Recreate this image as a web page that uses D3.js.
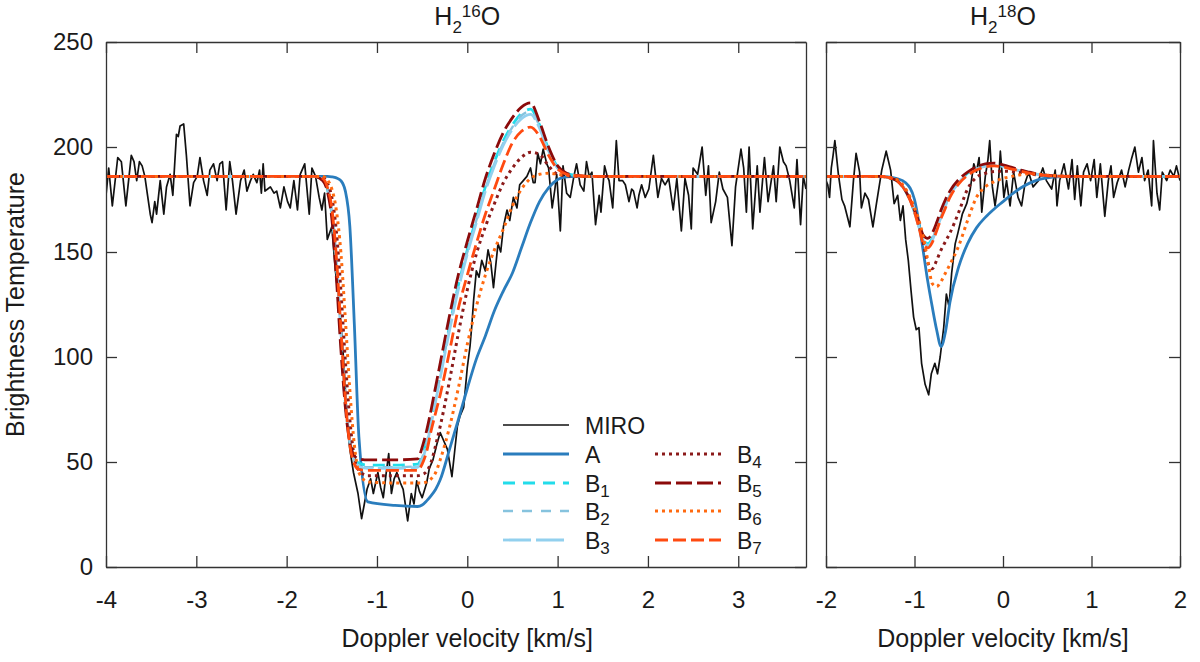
<!DOCTYPE html>
<html lang="en">
<head>
<meta charset="UTF-8">
<title>H2O lines</title>
<script src="https://cdn.jsdelivr.net/npm/d3@7"></script>
<style>
  body { margin: 0; background: #fff; }
  svg text { font-family: "Liberation Sans", Arial, sans-serif; fill: #1a1a1a; }
</style>
</head>
<body>
<script>
// ---------- data: H2-16O panel ----------
var gridL = [-4, -1.7, -1.6, -1.55, -1.5, -1.45, -1.4, -1.35, -1.3, -1.25, -1.2, -1.1, -0.8, -0.55, -0.5, -0.45, -0.4, -0.35, -0.3, -0.2, -0.1, 0, 0.1, 0.2, 0.3, 0.4, 0.5, 0.6, 0.7, 0.8, 0.9, 1.0, 1.1, 1.2, 1.4, 3.75];
var aL  = [186, 186, 186, 186, 185.8, 185.3, 184, 179, 162, 115, 62, 31, 29.3, 28.8, 29.5, 31.5, 34, 37, 41.5, 55.5, 70, 85, 99, 110, 122, 131.5, 140, 152, 164, 174, 180.5, 184.5, 185.8, 186, 186, 186];
var b1L = [186, 186, 184.5, 180, 168, 142, 108, 78, 60, 52, 49.5, 48.5, 48.5, 49, 53, 60, 70, 81, 92, 114, 134, 151, 166, 181, 193, 203, 210.5, 216, 218, 210.5, 199, 190.5, 187.5, 186.5, 186, 186];
var b2L = [186, 186, 184.5, 180, 169, 144, 110, 79, 60, 51, 48.5, 47.5, 47.5, 48, 52, 59, 69, 80, 91, 113, 133, 150, 165, 180, 192, 202, 209.5, 215, 217, 210, 198, 190, 187.3, 186.4, 186, 186];
var b3L = [186, 186, 184.5, 180.5, 170, 146, 112, 80, 60, 51, 48, 47, 47, 47.5, 51, 58, 68, 79, 90, 112, 132, 149, 164, 179, 191, 201, 208.5, 213.5, 215.5, 209, 197.5, 190, 187.2, 186.4, 186, 186];
var b4L = [186, 186, 185.5, 183, 176, 160, 132, 98, 70, 52, 46, 43.5, 43.5, 43.5, 44, 45.5, 50, 58, 67, 88, 111, 132, 149, 162, 173, 183, 190, 195, 197.5, 196.5, 191, 187, 186.3, 186, 186, 186];
var b5L = [186, 186, 184, 179, 166, 138, 104, 76, 59, 53, 51.5, 51, 51, 51.5, 57, 65, 75, 86, 97, 119, 139, 155, 170, 185, 197, 207, 214, 219, 221, 212, 200, 191, 187.5, 186.5, 186, 186];
var b6L = [186, 186, 186, 184.5, 180, 170, 150, 118, 84, 58, 45, 40.5, 40, 40, 40, 40.5, 42, 45, 51, 66, 85, 106, 124, 139, 151, 161, 172, 180, 185, 187, 187.5, 187, 186.5, 186.2, 186, 186];
var b7L = [186, 186, 185, 181, 171, 148, 114, 80, 58, 49, 46.5, 46, 46, 46, 49, 55, 65, 73.5, 82, 102, 123, 139, 154, 168, 180, 192, 202, 207.5, 209.5, 205, 196, 189.5, 187, 186.3, 186, 186];

var miroVelL = [-4.00, -3.97, -3.93, -3.87, -3.83, -3.78, -3.72, -3.69, -3.66, -3.63,
  -3.60, -3.57, -3.54, -3.51, -3.49, -3.46, -3.44, -3.40, -3.36, -3.33,
  -3.29, -3.26, -3.22, -3.20, -3.18, -3.14, -3.11, -3.07, -3.03, -2.99,
  -2.96, -2.92, -2.88, -2.85, -2.81, -2.77, -2.74, -2.71, -2.67, -2.63,
  -2.60, -2.56, -2.51, -2.47, -2.44, -2.40, -2.37, -2.33, -2.30, -2.28,
  -2.26, -2.24, -2.21, -2.18, -2.14, -2.11, -2.07, -2.03, -1.99, -1.96,
  -1.92, -1.88, -1.85, -1.80, -1.75, -1.72, -1.68, -1.64, -1.61, -1.58,
  -1.55, -1.50, -1.46, -1.41, -1.37, -1.33, -1.30, -1.26, -1.21, -1.17,
  -1.14, -1.11, -1.07, -1.04, -0.99, -0.96, -0.93, -0.90, -0.87, -0.84,
  -0.81, -0.78, -0.74, -0.71, -0.66, -0.62, -0.59, -0.56, -0.53, -0.50,
  -0.45, -0.42, -0.38, -0.34, -0.30, -0.26, -0.22, -0.17, -0.14, -0.11,
  -0.08, -0.04, 0.00, 0.03, 0.05, 0.07, 0.10, 0.13, 0.16, 0.20,
  0.23, 0.26, 0.29, 0.34, 0.37, 0.40, 0.44, 0.47, 0.51, 0.55,
  0.58, 0.62, 0.66, 0.70, 0.73, 0.75, 0.78, 0.81, 0.84, 0.88,
  0.90, 0.94, 0.97, 0.99, 1.03, 1.06, 1.10, 1.14, 1.18, 1.21,
  1.25, 1.29, 1.32, 1.35, 1.38, 1.42, 1.46, 1.48, 1.52, 1.55,
  1.57, 1.61, 1.65, 1.68, 1.72, 1.75, 1.79, 1.82, 1.84, 1.88,
  1.90, 1.93, 1.97, 2.01, 2.06, 2.11, 2.15, 2.19, 2.23, 2.28,
  2.32, 2.37, 2.41, 2.45, 2.48, 2.50, 2.55, 2.60, 2.64, 2.67,
  2.70, 2.75, 2.79, 2.83, 2.88, 2.93, 2.97, 3.03, 3.06, 3.09,
  3.12, 3.16, 3.21, 3.24, 3.29, 3.33, 3.39, 3.42, 3.46, 3.50,
  3.53, 3.57, 3.62, 3.65, 3.69, 3.72, 3.75];
var miroTbL = [177, 190, 172, 195, 193, 172, 196, 193, 184, 193,
  191, 186, 177, 168, 164, 174, 168, 184, 168, 181,
  187, 177, 206, 205, 210, 211, 196, 172, 183, 186,
  195, 184, 177, 189, 192, 184, 192, 193, 170, 193,
  184, 168, 184, 189, 179, 184, 187, 183, 189, 178,
  192, 179, 180, 181, 178, 179, 171, 181, 174, 171,
  184, 170, 187, 192, 168, 190, 186, 176, 170, 178,
  156, 162, 141, 122, 99, 70, 56, 45, 35, 23,
  30, 37, 42, 35, 45, 38, 33, 44, 54, 35,
  42, 45, 40, 37, 22, 35, 30, 41, 36, 33,
  40, 47, 51, 58, 64, 60, 56, 43, 55, 67,
  72, 76, 95, 105, 115, 127, 141, 138, 146, 141,
  151, 145, 133, 154, 150, 162, 170, 165, 176, 171,
  182, 184, 186, 190, 183, 183, 197, 192, 199, 192,
  190, 171, 180, 187, 160, 191, 178, 176, 186, 192,
  182, 179, 193, 186, 188, 163, 177, 169, 191, 186,
  184, 171, 203, 184, 184, 182, 174, 180, 179, 171,
  177, 182, 176, 180, 196, 176, 185, 182, 185, 170,
  185, 160, 185, 177, 161, 190, 187, 200, 177, 191,
  164, 174, 188, 180, 176, 153, 181, 199, 190, 169,
  200, 161, 191, 169, 195, 174, 191, 174, 200, 193,
  191, 184, 171, 194, 163, 186, 180];

// ---------- data: H2-18O panel ----------
var gridR = [-2, -1.4, -1.3, -1.2, -1.1, -1.0, -0.95, -0.9, -0.85, -0.8, -0.75, -0.7, -0.65, -0.6, -0.5, -0.4, -0.3, -0.2, -0.1, 0, 0.1, 0.2, 0.3, 0.4, 0.5, 0.6, 0.8, 2];
var aR  = [186, 186, 185.8, 185, 183, 175, 164, 150, 136, 124, 113, 105, 112, 126, 143, 154, 161.5, 166.5, 170.5, 174, 177.5, 180.5, 182.8, 184.5, 185.3, 185.8, 186, 186];
var b1R = [186, 186, 185.5, 184, 179, 169, 162.5, 156, 154, 156.5, 162, 167.5, 173, 177.5, 183.5, 187.5, 190, 191.3, 191.5, 191, 190, 188.8, 187.8, 187, 186.5, 186.2, 186, 186];
var b2R = [186, 186, 185.5, 184, 179, 169, 162, 155.5, 153.5, 156, 161.5, 167, 172.5, 177, 183, 187, 189.7, 191, 191.3, 190.8, 189.8, 188.7, 187.7, 186.9, 186.4, 186.2, 186, 186];
var b3R = [186, 186, 185.5, 184, 179, 169, 162, 155, 153, 155.5, 161, 166.5, 172, 176.8, 183, 187, 189.5, 190.8, 191.2, 190.7, 189.7, 188.6, 187.6, 186.9, 186.4, 186.2, 186, 186];
var b4R = [186, 186, 185.6, 184.5, 179.5, 170, 163, 154, 145, 142, 146, 151, 155, 159, 169, 180, 185.5, 187.5, 188.3, 188.5, 188.3, 187.8, 187.2, 186.7, 186.3, 186.1, 186, 186];
var b5R = [186, 186, 185.5, 184, 179, 170, 164, 158, 156.5, 159, 164, 170, 175, 179, 184.5, 188, 190.5, 192, 192.3, 191.5, 190.3, 189, 188, 187, 186.5, 186.2, 186, 186];
var b6R = [186, 186, 185.6, 184.5, 180, 171, 165, 157, 146, 135, 133.5, 136, 140, 144, 153, 165, 176, 181, 183.5, 185, 186, 186.8, 187.3, 187, 186.6, 186.3, 186, 186];
var b7R = [186, 186, 185.5, 184, 179, 169, 161.5, 154, 152, 154.5, 160, 166, 171, 176, 182.5, 186.5, 189, 190.5, 191, 190.5, 189.5, 188.5, 187.5, 186.8, 186.4, 186.2, 186, 186];

var miroVelR = [-2.00, -1.98, -1.96, -1.94, -1.92, -1.90, -1.86, -1.82, -1.79, -1.73,
  -1.69, -1.66, -1.62, -1.60, -1.56, -1.52, -1.47, -1.43, -1.37, -1.32,
  -1.27, -1.23, -1.19, -1.16, -1.13, -1.10, -1.07, -1.04, -1.01, -0.98,
  -0.95, -0.92, -0.88, -0.84, -0.81, -0.77, -0.74, -0.71, -0.67, -0.64,
  -0.61, -0.58, -0.54, -0.51, -0.46, -0.41, -0.37, -0.33, -0.30, -0.27,
  -0.24, -0.20, -0.17, -0.15, -0.12, -0.09, -0.05, -0.03, 0.01, 0.04,
  0.08, 0.12, 0.17, 0.21, 0.25, 0.29, 0.34, 0.40, 0.45, 0.49,
  0.55, 0.59, 0.61, 0.64, 0.69, 0.74, 0.78, 0.81, 0.84, 0.88,
  0.91, 0.95, 0.99, 1.03, 1.06, 1.10, 1.15, 1.19, 1.22, 1.25,
  1.29, 1.34, 1.38, 1.42, 1.45, 1.49, 1.53, 1.57, 1.60, 1.64,
  1.68, 1.70, 1.74, 1.77, 1.80, 1.85, 1.89, 1.93, 1.96, 2.00];
var miroTbR = [184, 182, 176, 190, 196, 203, 187, 175, 172, 162,
  184, 197, 188, 171, 178, 175, 162, 173, 189, 198,
  189, 173, 177, 165, 172, 156, 146, 132, 119, 113,
  114, 97, 87, 82, 92, 97, 92, 100, 114, 130,
  124, 140, 154, 159, 168, 173, 180, 192, 188, 195,
  169, 186, 194, 203, 181, 172, 184, 198, 176, 184,
  172, 188, 176, 172, 183, 188, 181, 184, 190, 184,
  180, 189, 172, 184, 192, 180, 194, 175, 191, 172,
  188, 192, 184, 194, 176, 192, 167, 184, 191, 176,
  183, 189, 181, 189, 194, 200, 188, 195, 184, 189,
  172, 203, 178, 170, 188, 184, 189, 186, 191, 184];

// axis ticks and labels
var yTicks = [0, 50, 100, 150, 200, 250];
var xTicksL = [-4, -3, -2, -1, 0, 1, 2, 3];
var xTicksR = [-2, -1, 0, 1, 2];
var seriesNames = ["A", "B1", "B2", "B3", "B4", "B5", "B6", "B7"];
var legendCol1 = ["MIRO", "A", "B1", "B2", "B3"];
var legendCol2 = ["B4", "B5", "B6", "B7"];

// line styles
var style = {
  MIRO: { color: "#111111", width: 1.7, dash: null },
  A:  { color: "#2a7dbd", width: 2.8, dash: null },
  B1: { color: "#22dcea", width: 2.8, dash: "12,8" },
  B2: { color: "#86c3de", width: 2.4, dash: "10,9" },
  B3: { color: "#92d0ee", width: 2.8, dash: "28,5" },
  B4: { color: "#8b1a1a", width: 3.0, dash: "3,4" },
  B5: { color: "#8b0a0a", width: 2.8, dash: "16,5" },
  B6: { color: "#ff6a10", width: 3.0, dash: "3,4" },
  B7: { color: "#ff4a10", width: 2.8, dash: "13,5" }
};

var W = 1200, H = 662;
var plotTop = 42, plotBottom = 567;
var svg = d3.select("body").append("svg").attr("width", W).attr("height", H);

var y = d3.scaleLinear().domain([0, 250]).range([plotBottom, plotTop]);
var xL = d3.scaleLinear().domain([-4, 3.75]).range([106, 806]);
var xR = d3.scaleLinear().domain([-2, 2]).range([826, 1180]);

function styleAxis(g) {
  g.select(".domain").attr("stroke", "#333").attr("stroke-width", 1.3);
  g.selectAll(".tick line").attr("stroke", "#333").attr("stroke-width", 1.3);
  g.selectAll(".tick text").attr("font-size", 24).attr("fill", "#1a1a1a");
  g.attr("font-family", null).attr("font-size", null);
}

function drawPanel(id, x, xticks, grid, models, miroV, miroT, showY) {
  var x0 = x.range()[0], x1 = x.range()[1];

  svg.append("clipPath").attr("id", id)
    .append("rect").attr("x", x0).attr("y", plotTop).attr("width", x1 - x0).attr("height", plotBottom - plotTop);

  var plot = svg.append("g").attr("clip-path", "url(#" + id + ")");

  var miroLine = d3.line().x(function(d) { return x(d[0]); }).y(function(d) { return y(d[1]); });
  plot.append("path")
    .datum(d3.zip(miroV, miroT))
    .attr("fill", "none")
    .attr("stroke", style.MIRO.color)
    .attr("stroke-width", style.MIRO.width)
    .attr("stroke-linejoin", "round")
    .attr("d", miroLine);

  var modelLine = d3.line().curve(d3.curveMonotoneX)
    .x(function(d) { return x(d[0]); }).y(function(d) { return y(d[1]); });
  seriesNames.forEach(function(name, i) {
    var s = style[name];
    plot.append("path")
      .datum(d3.zip(grid, models[i]))
      .attr("fill", "none")
      .attr("stroke", s.color)
      .attr("stroke-width", s.width)
      .attr("stroke-dasharray", s.dash)
      .attr("d", modelLine);
  });

  var fmt = function(d) { return String(d); };
  svg.append("g").attr("transform", "translate(0," + plotBottom + ")")
    .call(d3.axisBottom(x).tickValues(xticks).tickSize(-11).tickSizeOuter(0).tickPadding(24).tickFormat(fmt))
    .call(styleAxis);
  svg.append("g").attr("transform", "translate(0," + plotTop + ")")
    .call(d3.axisTop(x).tickValues(xticks).tickSize(-11).tickSizeOuter(0).tickFormat(""))
    .call(styleAxis);
  svg.append("g").attr("transform", "translate(" + x0 + ",0)")
    .call(d3.axisLeft(y).tickValues(yTicks).tickSize(-11).tickSizeOuter(0).tickPadding(13).tickFormat(showY ? fmt : ""))
    .call(styleAxis);
  svg.append("g").attr("transform", "translate(" + x1 + ",0)")
    .call(d3.axisRight(y).tickValues(yTicks).tickSize(-11).tickSizeOuter(0).tickFormat(""))
    .call(styleAxis);

  svg.append("text")
    .attr("x", x(0)).attr("y", 647)
    .attr("text-anchor", "middle")
    .attr("font-size", 25)
    .text("Doppler velocity [km/s]");
}

function title(cx, iso) {
  var t = svg.append("text").attr("x", cx).attr("y", 25).attr("text-anchor", "middle").attr("font-size", 25);
  t.append("tspan").text("H");
  t.append("tspan").attr("dy", 8).attr("font-size", 17).text("2");
  t.append("tspan").attr("dy", -16).attr("font-size", 17).text(iso);
  t.append("tspan").attr("dy", 8).text("O");
}

drawPanel("clipL", xL, xTicksL, gridL, [aL, b1L, b2L, b3L, b4L, b5L, b6L, b7L], miroVelL, miroTbL, true);
drawPanel("clipR", xR, xTicksR, gridR, [aR, b1R, b2R, b3R, b4R, b5R, b6R, b7R], miroVelR, miroTbR, false);

title(xL(0), "16");
title(xR(0), "18");

svg.append("text")
  .attr("transform", "translate(24," + ((plotTop + plotBottom) / 2) + ") rotate(-90)")
  .attr("text-anchor", "middle")
  .attr("font-size", 25)
  .text("Brightness Temperature");

// legend
var legend = svg.append("g");
function legendEntry(name, lx, ly) {
  var s = style[name];
  legend.append("line")
    .attr("x1", lx).attr("x2", lx + 66).attr("y1", ly).attr("y2", ly)
    .attr("stroke", s.color).attr("stroke-width", s.width)
    .attr("stroke-dasharray", s.dash);
  var t = legend.append("text").attr("x", lx + 82).attr("y", ly + 8.5).attr("font-size", 23);
  if (name.charAt(0) === "B") {
    t.append("tspan").text("B");
    t.append("tspan").attr("dy", 5).attr("font-size", 17).text(name.slice(1));
  } else {
    t.text(name);
  }
}
var rowY = [425, 454, 483, 511, 540];
legendCol1.forEach(function(n, i) { legendEntry(n, 503, rowY[i]); });
legendCol2.forEach(function(n, i) { legendEntry(n, 655, rowY[i + 1]); });
</script>
</body>
</html>
